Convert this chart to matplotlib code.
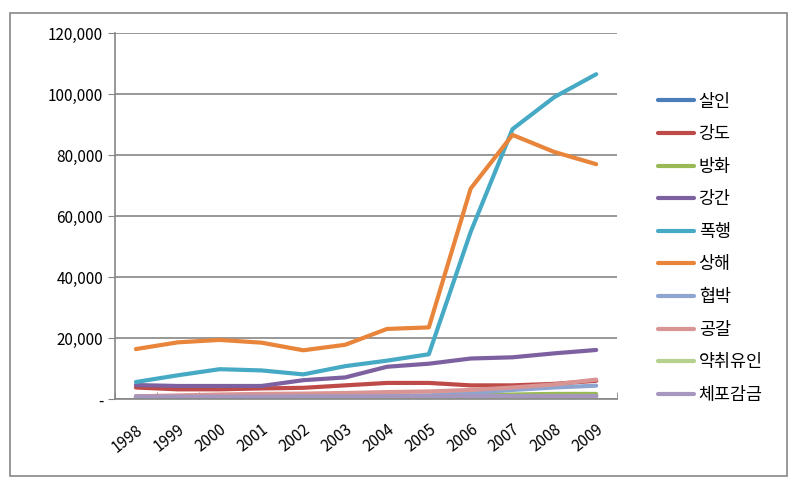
import numpy as np
import matplotlib.pyplot as plt
from matplotlib.patches import Rectangle
from matplotlib.ticker import FuncFormatter

plt.rcParams['font.family'] = ['Noto Sans CJK KR', 'DejaVu Sans']

years = ['1998', '1999', '2000', '2001', '2002', '2003', '2004', '2005', '2006', '2007', '2008', '2009']
labels = ['살인', '강도', '방화', '강간', '폭행', '상해', '협박', '공갈', '약취유인', '체포감금']
colors = ['#4A7EBB', '#BE4B48', '#98B954', '#7D60A0', '#46AAC5', '#E8853A',
          '#8EA5D0', '#D99594', '#B6D08E', '#A597BE']

murder = [900, 900, 900, 900, 900, 900, 1000, 1000, 1100, 1100, 1100, 1100]
robbery = [3800, 3200, 3200, 3500, 3700, 4500, 5300, 5300, 4500, 4500, 5000, 6000]
arson = [600, 600, 600, 700, 700, 700, 800, 900, 1200, 1500, 1700, 1700]
rape = [4600, 4300, 4300, 4300, 6200, 7100, 10600, 11600, 13300, 13700, 15000, 16100]
assault = [5600, 7800, 9800, 9400, 8100, 10800, 12600, 14700, 54800, 88500, 99000, 106500]
injury = [16400, 18600, 19400, 18500, 16000, 17800, 23000, 23500, 69000, 86600, 81000, 77000]
threat = [700, 700, 800, 800, 900, 900, 1100, 1200, 2000, 3000, 3800, 4400]
extortion = [900, 1200, 1500, 1700, 1800, 2000, 2300, 2500, 3000, 3800, 4800, 6400]
abduction = [300, 300, 300, 300, 300, 300, 300, 300, 400, 400, 400, 400]
confinement = [800, 800, 800, 800, 900, 900, 900, 900, 1000, 1000, 1000, 1000]
series = [murder, robbery, arson, rape, assault, injury, threat, extortion, abduction, confinement]

fig = plt.figure(figsize=(7.97, 4.82), dpi=100)
ax = fig.add_axes([0.1443, 0.172, 0.630, 0.7595])

x = np.arange(len(years))
for vals, lab, col in zip(series, labels, colors):
    ax.plot(x, vals, color=col, linewidth=3, label=lab, solid_capstyle='round')

ax.set_xlim(-0.5, len(years) - 0.5)
ax.set_ylim(0, 120000)
ax.set_yticks(np.arange(0, 120001, 20000))
ax.yaxis.set_major_formatter(FuncFormatter(lambda v, p: '-' if v == 0 else f'{int(v):,}'))
ax.set_xticks(x)
ax.set_xticks(np.arange(-0.5, len(years), 1), minor=True)
ax.set_xticklabels(years, rotation=38, ha='right', rotation_mode='anchor', fontsize=11)
ax.tick_params(axis='x', which='major', length=0, pad=16)
ax.tick_params(axis='x', which='minor', length=5, color='#868686', direction='in')
ax.tick_params(axis='y', length=5, color='#868686', labelsize=11)

ax.grid(axis='y', color='#868686', linewidth=1.2)
ax.set_axisbelow(True)
for s in ['top', 'right']:
    ax.spines[s].set_visible(False)
for s in ['left', 'bottom']:
    ax.spines[s].set_color('#868686')
    ax.spines[s].set_linewidth(1.2)

ax.legend(loc='upper left', bbox_to_anchor=(1.05, 0.88), frameon=False, fontsize=12.5,
          handlelength=2.1, handletextpad=0.25, labelspacing=0.84)

fig.patches.append(Rectangle((0.012, 0.012), 0.976, 0.962, transform=fig.transFigure,
                             fill=False, edgecolor='#868686', linewidth=1.2))

fig.savefig('out.png', dpi=100)
